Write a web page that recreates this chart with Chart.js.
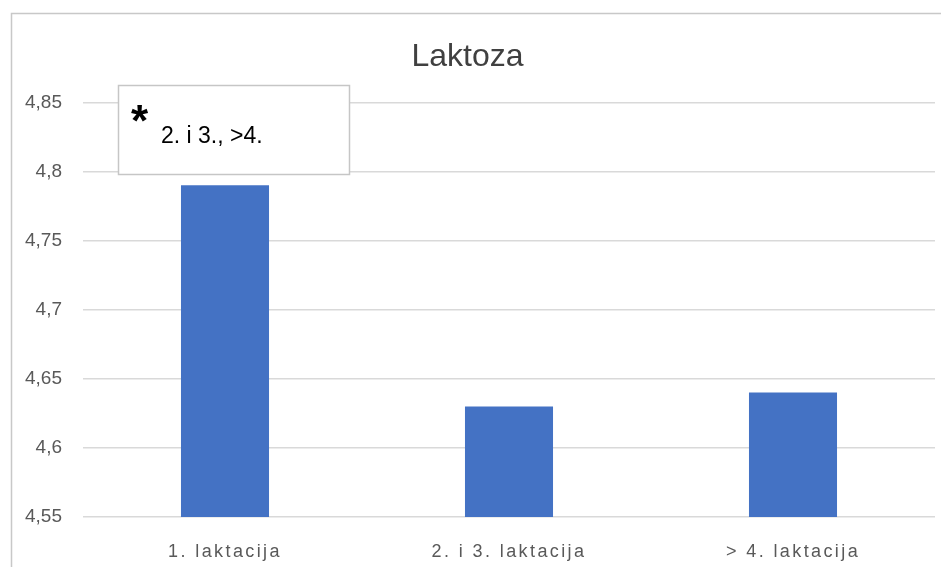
<!DOCTYPE html>
<html>
<head>
<meta charset="utf-8">
<script src="https://cdn.jsdelivr.net/npm/chart.js@4"></script>
<style>
  html, body { margin: 0; padding: 0; background: #fff; }
  #wrap { width: 941px; height: 567px; position: relative; }
</style>
</head>
<body>
<div id="wrap"><canvas id="chartCanvas" width="941" height="567"></canvas></div>
<script>
// podaci
const categories = ['1. laktacija', '2. i 3. laktacija', '> 4. laktacija'];
const lactose = [4.79, 4.63, 4.64];
const yTicks = [4.55, 4.6, 4.65, 4.7, 4.75, 4.8, 4.85];
const noteStar = '*';
const noteText = '2. i 3., >4.';

const fontFamily = "'Liberation Sans', 'Open Sans', sans-serif";

// okvir oko grafikona i okvir s napomenom
const extras = {
    id: 'extras',
    beforeDraw(chart) {
        const ctx = chart.ctx;
        ctx.save();
        ctx.fillStyle = '#ffffff';
        ctx.fillRect(0, 0, chart.width, chart.height);
        ctx.strokeStyle = '#c8c8c8';
        ctx.lineWidth = 1.5;
        ctx.strokeRect(11.5, 13.5, 1000, 1000);
        ctx.restore();

        // razmak medju slovima samo na oznakama x osi
        const xs = chart.scales.x;
        if (xs && !xs._spaced) {
            const orig = xs.drawLabels;
            xs.drawLabels = function (area) {
                chart.ctx.save();
                chart.ctx.letterSpacing = '2.4px';
                orig.call(this, area);
                chart.ctx.restore();
            };
            xs._spaced = true;
        }
    },
    afterDraw(chart) {
        const ctx = chart.ctx;
        ctx.save();
        ctx.fillStyle = '#ffffff';
        ctx.fillRect(118.5, 85.5, 231, 89);
        ctx.strokeStyle = '#c6c6c6';
        ctx.lineWidth = 1.5;
        ctx.strokeRect(118.5, 85.5, 231, 89);
        ctx.fillStyle = '#000000';
        ctx.textBaseline = 'alphabetic';
        ctx.font = 'bold 44px ' + fontFamily;
        ctx.fillText(noteStar, 131, 136);
        ctx.font = '23px ' + fontFamily;
        ctx.fillText(noteText, 161, 143);
        ctx.restore();
    }
};

new Chart('chartCanvas', {
    type: 'bar',
    data: {
        labels: categories,
        datasets: [{
            label: 'Laktoza',
            data: lactose,
            backgroundColor: '#4472C4',
            borderWidth: 0,
            categoryPercentage: 1,
            barPercentage: 0.31
        }]
    },
    options: {
        responsive: false,
        animation: false,
        layout: { padding: { left: 0, right: 6, top: 0, bottom: 0 } },
        plugins: {
            legend: { display: false },
            tooltip: { enabled: false },
            title: {
                display: true,
                text: 'Laktoza',
                color: '#404040',
                font: { family: fontFamily, size: 32, weight: 'normal' },
                padding: { top: 38, bottom: 26 }
            }
        },
        scales: {
            x: {
                afterFit: (scale) => { scale.height = 50; },
                grid: { display: false, drawTicks: false },
                border: { display: false },
                ticks: {
                    color: '#595959',
                    font: { family: fontFamily, size: 18 },
                    padding: 24,
                    maxRotation: 0
                }
            },
            y: {
                min: 4.55,
                max: 4.85,
                afterBuildTicks: (scale) => { scale.ticks = yTicks.map(v => ({ value: v })); },
                afterFit: (scale) => { scale.width = 83; },
                grid: { color: '#d9d9d9', lineWidth: 1.5, drawTicks: false },
                border: { display: false },
                ticks: {
                    color: '#595959',
                    font: { family: fontFamily, size: 19 },
                    padding: 21,
                    callback: (v) => String(Math.round(v * 100) / 100).replace('.', ',')
                }
            }
        }
    },
    plugins: [extras]
});
</script>
</body>
</html>
